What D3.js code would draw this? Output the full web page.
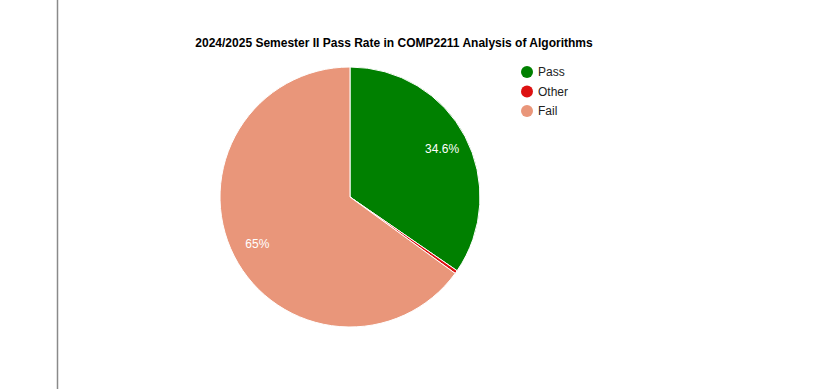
<!DOCTYPE html>
<html>
<head>
<meta charset="utf-8">
<script src="https://cdn.jsdelivr.net/npm/d3@7"></script>
<style>
  body { margin: 0; background: #fff; }
  text { font-family: Arial, "Liberation Sans", sans-serif; }
</style>
</head>
<body>
<svg></svg>
<script>
const labels = ['Pass', 'Other', 'Fail'];
const values = [34.6, 0.4, 65];
const pctLabels = ['34.6%', '', '65%'];
const colors = ['#008000', '#dd1111', '#e9967a'];

const width = 828;
const height = 389;

const svg = d3.select("svg")
  .attr("width", width)
  .attr("height", height);

// thin grey rule on the left
svg.append("line")
  .attr("x1", 57.5).attr("x2", 57.5)
  .attr("y1", 0).attr("y2", height)
  .attr("stroke", "#8a8a8a")
  .attr("stroke-width", 1.5);

svg.append("text")
  .attr("x", 394)
  .attr("y", 47)
  .attr("text-anchor", "middle")
  .attr("font-size", 12)
  .attr("font-weight", "bold")
  .text("2024/2025 Semester II Pass Rate in COMP2211 Analysis of Algorithms");

const cx = 350, cy = 197, radius = 130;

const pie = d3.pie().sort(null).value(d => d);
const arcs = pie(values);
const arc = d3.arc().innerRadius(0).outerRadius(radius);
const labelArc = d3.arc().innerRadius(radius * 0.8).outerRadius(radius * 0.8);

const g = svg.append("g").attr("transform", `translate(${cx},${cy})`);

g.selectAll(".slice")
  .data(arcs)
  .enter().append("path")
  .attr("class", "slice")
  .attr("d", arc)
  .attr("fill", (d, i) => colors[i])
  .attr("stroke", "#fff")
  .attr("stroke-width", 1);

g.selectAll(".pct")
  .data(arcs)
  .enter().append("text")
  .attr("class", "pct")
  .attr("transform", d => `translate(${labelArc.centroid(d)})`)
  .attr("text-anchor", "middle")
  .attr("dy", "0.35em")
  .attr("font-size", 12)
  .attr("fill", "#fff")
  .text((d, i) => pctLabels[i]);

const legend = svg.append("g").attr("transform", "translate(527,72)");
const item = legend.selectAll(".item")
  .data(labels)
  .enter().append("g")
  .attr("class", "item")
  .attr("transform", (d, i) => `translate(0,${i * 19.5})`);

item.append("circle")
  .attr("r", 6)
  .attr("fill", (d, i) => colors[i]);

item.append("text")
  .attr("x", 11)
  .attr("dy", "0.35em")
  .attr("font-size", 12)
  .attr("fill", "#222")
  .text(d => d);
</script>
</body>
</html>
